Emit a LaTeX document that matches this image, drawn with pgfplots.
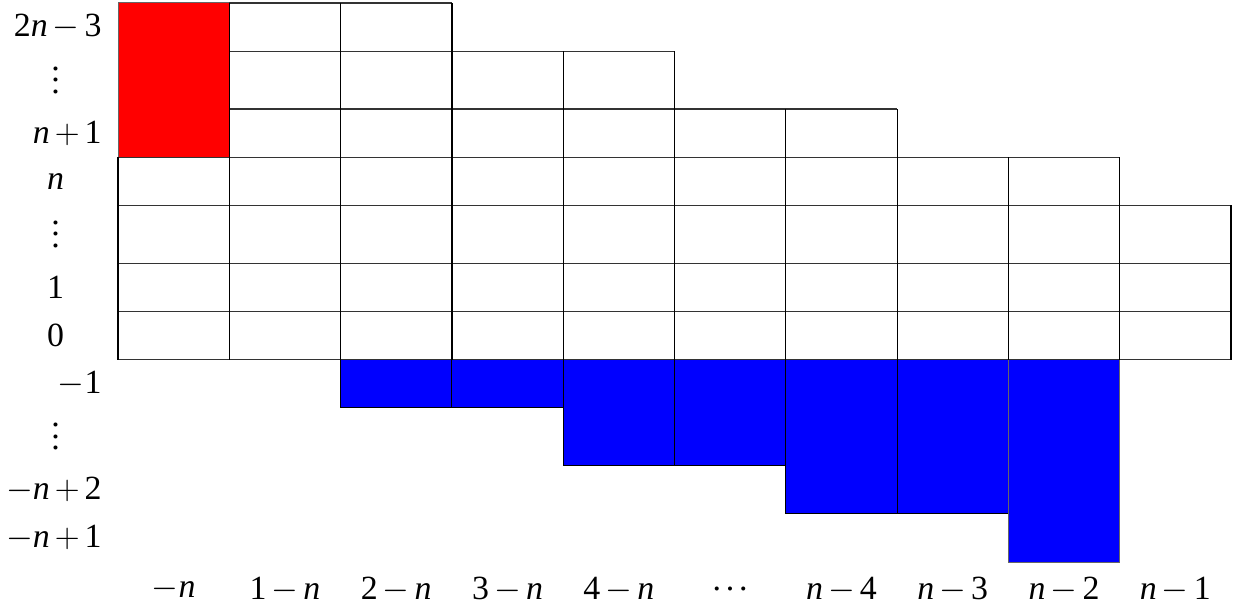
\documentclass[border=0pt]{standalone}
\usepackage{fontspec}
\setmainfont{Liberation Serif}
\usepackage{pgfplots}
\pgfplotsset{compat=1.18}
\newcommand{\bop}[1]{\hspace{0.15em}$#1$\hspace{0.15em}}
\newcommand{\N}{\textit{n}}
\newcommand{\M}{$-$}
\newcommand{\C}[1]{\makebox[46bp][c]{#1}}
\newcommand{\vd}{\vbox{\baselineskip5.7bp\lineskiplimit0pt\hbox{.}\hbox{.}\hbox{.}}}
\newcommand{\cd}{\vphantom{1}\raisebox{0.28em}{.\kern2.4bp.\kern2.4bp.}}
\begin{document}
\fontsize{17}{20}\selectfont
\begin{tikzpicture}
\begin{axis}[
  name=ax,
  scale only axis, width=556.5bp, height=279.5bp,
  xmin=0, xmax=10, ymin=-4.2, ymax=7.4,
  axis line style={draw=none},
  major tick length=0pt,
  clip=false,
  unbounded coords=jump,
  tick label style={font=\fontsize{17}{20}\selectfont},
  xtick={0.5,1.5,2.5,3.5,4.5,5.5,6.5,7.5,8.5,9.5},
  xticklabels={{\M\N},{1\bop{-}\N},{2\bop{-}\N},{3\bop{-}\N},{4\bop{-}\N},{\cd},{\N\bop{-}4},{\N\bop{-}3},{\N\bop{-}2},{\N\bop{-}1}},
  ytick={-3.7,-2.7,-1.6,-0.5,0.5,1.5,2.6,3.7,4.7,5.8,6.9},
  yticklabels={{\M\N\bop{+}1},{\M\N\bop{+}2},{\C{\vd}},{\M 1},{\C{0}},{\C{1}},{\C{\vd}},{\C{\N}},{\N\bop{+}1},{\C{\vd}},{2\N\bop{-}3}},
  yticklabel style={anchor=east, inner sep=0pt, xshift=-8bp},
  xticklabel style={anchor=north, inner sep=0pt, yshift=-7.5bp},
]
% red cell
\addplot[fill=red, draw=black!60, line width=0.5bp] coordinates {(0,4.2) (0,7.4) (1,7.4) (1,4.2)} --cycle;
% horizontal grid lines
\addplot[black!80, line width=0.6bp] coordinates {
 (0,0) (10,0) (nan,nan)
 (0,1) (10,1) (nan,nan)
 (0,2) (10,2) (nan,nan)
 (0,3.2) (10,3.2) (nan,nan)
 (0,4.2) (9,4.2) (nan,nan)
 (1,5.2) (7,5.2) (nan,nan)
 (1,6.4) (5,6.4) (nan,nan)
 (1,7.4) (3,7.4)
};
% vertical grid lines
\addplot[black, line width=0.6bp] coordinates {
 (0,0) (0,4.2) (nan,nan)
 (1,0) (1,7.4) (nan,nan)
 (2,0) (2,7.4) (nan,nan)
 (3,0) (3,7.4) (nan,nan)
 (4,0) (4,6.4) (nan,nan)
 (5,0) (5,6.4) (nan,nan)
 (6,0) (6,5.2) (nan,nan)
 (7,0) (7,5.2) (nan,nan)
 (8,0) (8,4.2) (nan,nan)
 (9,0) (9,4.2) (nan,nan)
 (10,0) (10,3.2)
};
% blue cells
\addplot[fill=blue, draw=black, line width=0.5bp] coordinates {(2,0) (2,-1) (3,-1) (3,0)};
\addplot[fill=blue, draw=black, line width=0.5bp] coordinates {(3,0) (3,-1) (4,-1) (4,0)};
\addplot[fill=blue, draw=black, line width=0.5bp] coordinates {(4,0) (4,-2.2) (5,-2.2) (5,0)};
\addplot[fill=blue, draw=black, line width=0.5bp] coordinates {(5,0) (5,-2.2) (6,-2.2) (6,0)};
\addplot[fill=blue, draw=black, line width=0.5bp] coordinates {(6,0) (6,-3.2) (7,-3.2) (7,0)};
\addplot[fill=blue, draw=black, line width=0.5bp] coordinates {(7,0) (7,-3.2) (8,-3.2) (8,0)};
\addplot[fill=blue, draw=black!60, line width=0.5bp] coordinates {(8,0) (8,-4.2) (9,-4.2) (9,0)};
\end{axis}
\path ([xshift=-59bp,yshift=-21bp]ax.south west) rectangle ([xshift=3bp,yshift=1.5bp]ax.north east);
\end{tikzpicture}
\end{document}
